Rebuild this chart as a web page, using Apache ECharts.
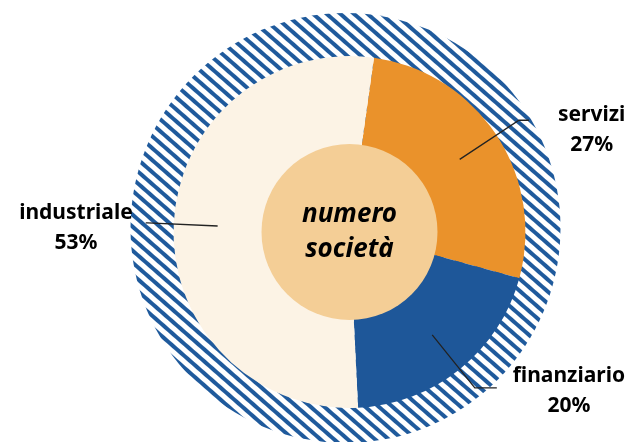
<!DOCTYPE html>
<html>
<head>
<meta charset="utf-8">
<script src="https://cdn.jsdelivr.net/npm/echarts@6/dist/echarts.min.js"></script>
<style>
  html, body { margin: 0; padding: 0; background: #fff; }
  #chart { width: 629px; height: 442px; }
</style>
</head>
<body>
<div id="chart"></div>
<script>
// settori (in senso orario dall'alto)
const sectors = ['servizi', 'finanziario', 'industriale'];
const shares = [27, 20, 53];
const centerText = ['numero', 'società'];

const sectorColors = ['#ea922b', '#1e5799', '#fcf3e5'];

// etichette: distanza testo / lunghezza linee per ciascun settore
const labelPad = [[20, 0, 0, 24], [6, 0, 0, 11], [10, 8, 0, 0]];
const lineLen = [[71, 10], [68, 22], [70, 2]];

const chart = echarts.init(document.getElementById('chart'));

const ringCenter = [349.5, 232];

const option = {
  animation: false,
  series: [
    // anello esterno a righe
    {
      type: 'pie',
      silent: true,
      z: 1,
      center: [345.5, 228],
      radius: [0, 215],
      label: { show: false },
      labelLine: { show: false },
      itemStyle: {
        color: '#ffffff',
        decal: {
          symbol: 'rect',
          symbolSize: 1,
          color: '#1f5a9c',
          dashArrayX: [1, 0],
          dashArrayY: [3.5, 4.5],
          rotation: 0.72
        }
      },
      data: [{ name: 'bg', value: 1 }]
    },
    // anello dei settori
    {
      type: 'pie',
      silent: true,
      z: 2,
      center: ringCenter,
      radius: [86, 176],
      startAngle: 82,
      clockwise: true,
      label: { show: false },
      labelLine: { show: false },
      data: sectors.map((s, i) => ({
        name: s,
        value: shares[i],
        itemStyle: { color: sectorColors[i] }
      }))
    },
    // cerchio centrale
    {
      type: 'pie',
      silent: true,
      z: 3,
      center: ringCenter,
      radius: [0, 88],
      itemStyle: { color: '#f4ce96' },
      label: {
        show: true,
        position: 'center',
        formatter: centerText.join('\n'),
        fontFamily: 'Noto Sans',
        fontStyle: 'italic',
        fontWeight: 'bold',
        fontSize: 26,
        lineHeight: 35,
        padding: [4, 0, 0, 0],
        color: '#000'
      },
      labelLine: { show: false },
      data: [{ name: centerText.join(' '), value: 1 }]
    },
    // etichette con linee guida (pie trasparente)
    {
      type: 'pie',
      silent: true,
      z: 10,
      center: ringCenter,
      radius: [0, 132],
      startAngle: 82,
      clockwise: true,
      avoidLabelOverlap: false,
      itemStyle: { color: 'rgba(0,0,0,0)' },
      label: {
        show: true,
        position: 'outside',
        distanceToLabelLine: 5,
        formatter: p => '{t|' + p.name + '}\n{t|' + Math.round(p.percent) + '%}',
        rich: {
          t: {
            fontFamily: 'Noto Sans',
            fontWeight: 'bold',
            fontSize: 21,
            lineHeight: 30,
            color: '#000',
            align: 'center'
          }
        }
      },
      labelLine: {
        show: true,
        lineStyle: { color: '#222', width: 1.3 }
      },
      data: sectors.map((s, i) => ({
        name: s,
        value: shares[i],
        label: { padding: labelPad[i] },
        labelLine: { length: lineLen[i][0], length2: lineLen[i][1] }
      }))
    }
  ]
};

chart.setOption(option);
</script>
</body>
</html>
